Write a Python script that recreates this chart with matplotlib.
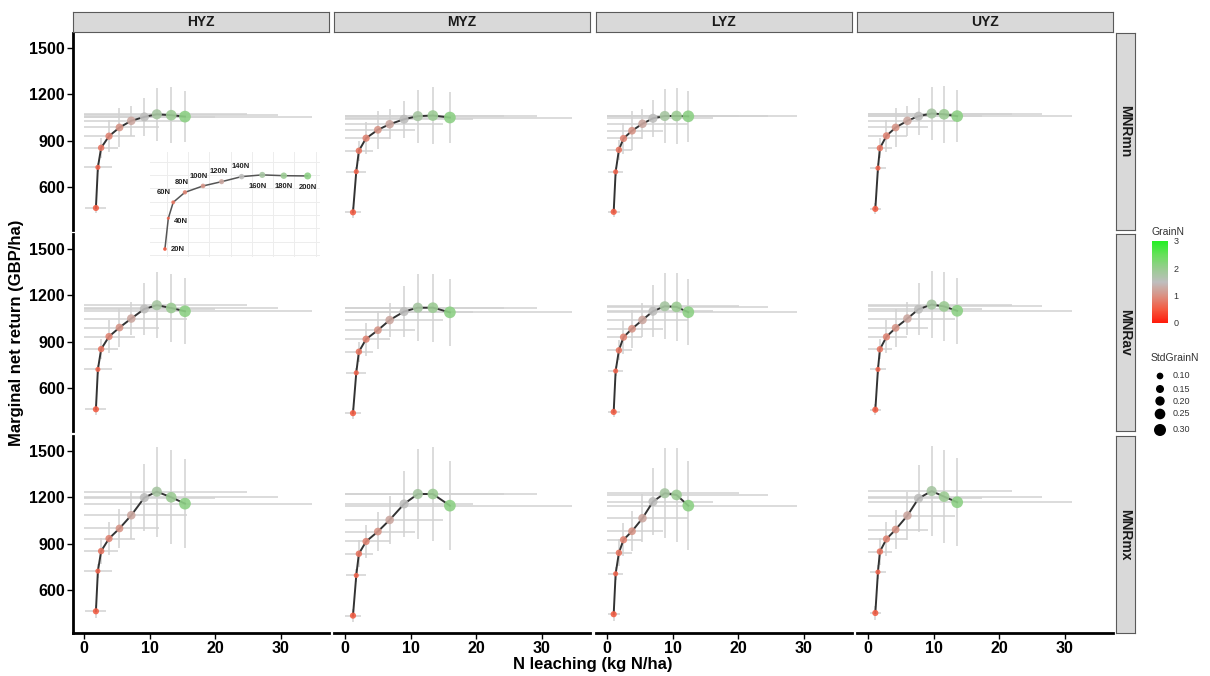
import numpy as np
import matplotlib
matplotlib.use("Agg")
import matplotlib.pyplot as plt
from matplotlib.colors import LinearSegmentedColormap, Normalize
from matplotlib.cm import ScalarMappable

plt.rcParams['font.family'] = ['Liberation Sans', 'DejaVu Sans']

# facets
zones = ["HYZ", "MYZ", "LYZ", "UYZ"]
prices = ["MNRmn", "MNRav", "MNRmx"]
n_rates = ["20N", "40N", "60N", "80N", "100N", "120N", "140N", "160N", "180N", "200N"]

# N leaching (kg N/ha) per zone, and its std
leach_hyz = [1.8, 2.1, 2.6, 3.8, 5.4, 7.2, 9.2, 11.1, 13.3, 15.4]
leach_myz = [1.2, 1.7, 2.1, 3.2, 5.0, 6.8, 9.0, 11.1, 13.4, 16.0]
leach_lyz = [1.0, 1.3, 1.8, 2.5, 3.8, 5.4, 7.0, 8.8, 10.6, 12.4]
leach_uyz = [1.1, 1.5, 1.8, 2.8, 4.2, 6.0, 7.7, 9.7, 11.6, 13.6]
sd_leach_hyz = [1.6, 2.1, 2.6, 3.9, 6.1, 8.5, 10.8, 13.7, 16.3, 19.4]
sd_leach_myz = [1.3, 1.5, 2.1, 3.7, 5.6, 8.1, 10.6, 13.2, 15.9, 18.7]
sd_leach_lyz = [0.9, 1.2, 2.0, 2.9, 4.8, 6.9, 9.1, 11.4, 14.0, 16.6]
sd_leach_uyz = [0.8, 1.2, 1.8, 3.1, 4.9, 7.3, 9.7, 12.2, 14.9, 17.6]

# marginal net return (GBP/ha)
mnr_mn_hyz = [467, 729, 855, 930, 986, 1029, 1054, 1071, 1065, 1056]
mnr_mn_myz = [439, 701, 836, 917, 971, 1007, 1039, 1059, 1063, 1050]
mnr_mn_lyz = [442, 700, 842, 915, 965, 1010, 1045, 1060, 1060, 1058]
mnr_mn_uyz = [461, 724, 853, 932, 986, 1029, 1059, 1076, 1071, 1059]
mnr_av_hyz = [465, 722, 853, 934, 992, 1050, 1112, 1136, 1118, 1097]
mnr_av_myz = [440, 700, 836, 917, 975, 1040, 1095, 1120, 1120, 1090]
mnr_av_lyz = [448, 712, 845, 930, 984, 1041, 1097, 1129, 1125, 1091]
mnr_av_uyz = [462, 722, 852, 932, 990, 1050, 1110, 1140, 1128, 1100]
mnr_mx_hyz = [465, 724, 853, 934, 999, 1084, 1198, 1236, 1200, 1159]
mnr_mx_myz = [437, 696, 836, 915, 979, 1054, 1157, 1221, 1221, 1146]
mnr_mx_lyz = [446, 707, 842, 926, 981, 1065, 1172, 1226, 1215, 1146]
mnr_mx_uyz = [454, 718, 850, 931, 992, 1082, 1193, 1240, 1204, 1168]
sd_mnr_mn = [35, 30, 64, 103, 124, 96, 120, 171, 182, 166]
sd_mnr_av = [35, 30, 64, 107, 124, 107, 166, 214, 220, 214]
sd_mnr_mx = [43, 43, 86, 107, 128, 155, 214, 289, 302, 285]

# grain N and its std (colour / size)
grain_n = [0.55, 0.6, 0.75, 0.9, 1.05, 1.25, 1.5, 1.8, 1.95, 2.1]
std_grain_n = [0.08, 0.04, 0.09, 0.12, 0.14, 0.17, 0.19, 0.23, 0.25, 0.29]
size_breaks = [0.10, 0.15, 0.20, 0.25, 0.30]

# inset sketch (arbitrary grid units)
inset_x = [-0.08, 0.08, 0.31, 0.86, 1.71, 2.58, 3.52, 4.49, 5.5, 6.62]
inset_y = [0.45, 2.76, 3.96, 4.71, 5.19, 5.51, 5.89, 6.02, 5.96, 5.94]

leach = {"HYZ": leach_hyz, "MYZ": leach_myz, "LYZ": leach_lyz, "UYZ": leach_uyz}
sd_leach = {"HYZ": sd_leach_hyz, "MYZ": sd_leach_myz, "LYZ": sd_leach_lyz, "UYZ": sd_leach_uyz}
mnr = {
    "MNRmn": {"HYZ": mnr_mn_hyz, "MYZ": mnr_mn_myz, "LYZ": mnr_mn_lyz, "UYZ": mnr_mn_uyz},
    "MNRav": {"HYZ": mnr_av_hyz, "MYZ": mnr_av_myz, "LYZ": mnr_av_lyz, "UYZ": mnr_av_uyz},
    "MNRmx": {"HYZ": mnr_mx_hyz, "MYZ": mnr_mx_myz, "LYZ": mnr_mx_lyz, "UYZ": mnr_mx_uyz},
}
sd_mnr = {"MNRmn": sd_mnr_mn, "MNRav": sd_mnr_av, "MNRmx": sd_mnr_mx}

cmap = LinearSegmentedColormap.from_list("grain", [
    (0.0, "#FF1A0A"), (1 / 6, "#F45A40"), (2 / 6, "#DA9284"), (0.5, "#BEBEBE"),
    (4 / 6, "#98CC90"), (5 / 6, "#66E05A"), (1.0, "#22F022")])
norm = Normalize(0, 3)

W, H = 1210, 676


def rect(l, t, w, h):
    return [l / W, 1 - (t + h) / H, w / W, h / H]


def marker_area(v, scale=1.0):
    d_px = (4.05 + 26.5 * np.asarray(v)) * scale
    return (d_px * 72 / 100) ** 2


fig = plt.figure(figsize=(W / 100, H / 100), dpi=100)

col_left = [73, 334, 596, 857]
row_top = [33, 234, 436]
pw, ph = 256, 197

for i, p in enumerate(prices):
    for j, z in enumerate(zones):
        ax = fig.add_axes(rect(col_left[j], row_top[i], pw, ph))
        ax.set_facecolor("none")
        x = np.array(leach[z])
        y = np.array(mnr[p][z])
        sx = np.array(sd_leach[z])
        sy = np.array(sd_mnr[p])
        for k in range(len(x)):
            ax.plot([max(0, x[k] - sx[k]), x[k] + sx[k]], [y[k], y[k]],
                    color="#D2D2D2", lw=1.1, solid_capstyle="butt", zorder=1)
            ax.plot([x[k], x[k]], [y[k] - sy[k], y[k] + sy[k]],
                    color="#D2D2D2", lw=1.1, solid_capstyle="butt", zorder=1)
        ax.plot(x, y, color="#333333", lw=1.4, zorder=2)
        ax.scatter(x, y, s=marker_area(std_grain_n), c=grain_n, cmap=cmap, norm=norm,
                   alpha=0.9, edgecolors="none", zorder=3)
        ax.set_xlim(-1.7, 37.4)
        ax.set_ylim(325, 1595)
        ax.set_xticks([0, 10, 20, 30])
        ax.set_yticks([600, 900, 1200, 1500])
        for s in ax.spines.values():
            s.set_visible(False)
        ax.tick_params(length=4, width=1, labelsize=11.5, pad=2, colors="black")
        if j == 0:
            ax.spines["left"].set_visible(True)
            ax.spines["left"].set_linewidth(2)
        else:
            ax.tick_params(left=False, labelleft=False)
        if i == 2:
            ax.spines["bottom"].set_visible(True)
            ax.spines["bottom"].set_linewidth(2)
        else:
            ax.tick_params(bottom=False, labelbottom=False)
        for lbl in ax.get_xticklabels() + ax.get_yticklabels():
            lbl.set_fontweight("bold")

# strips
for j, z in enumerate(zones):
    sa = fig.add_axes(rect(col_left[j], 12, pw, 20))
    sa.set_facecolor("#D9D9D9")
    sa.set_xticks([])
    sa.set_yticks([])
    for s in sa.spines.values():
        s.set_color("#5A5A5A")
        s.set_linewidth(0.8)
    sa.text(0.5, 0.5, z, ha="center", va="center", fontsize=10, fontweight="bold",
            color="#1A1A1A", transform=sa.transAxes)
for i, p in enumerate(prices):
    sa = fig.add_axes(rect(1116, row_top[i], 19, ph))
    sa.set_facecolor("#D9D9D9")
    sa.set_xticks([])
    sa.set_yticks([])
    for s in sa.spines.values():
        s.set_color("#5A5A5A")
        s.set_linewidth(0.8)
    sa.text(0.5, 0.5, p, ha="center", va="center", rotation=-90, fontsize=10,
            fontweight="bold", color="#1A1A1A", transform=sa.transAxes)

# inset
ins = fig.add_axes(rect(150, 152, 170, 105))
ins.set_facecolor("none")
ins.set_xlim(-0.78, 7.2)
ins.set_ylim(-0.15, 7.74)
ins.set_xticks(np.arange(0, 8))
ins.set_yticks(np.arange(0, 8))
ins.grid(True, color="#EDEDED", lw=0.7)
ins.tick_params(length=0, labelbottom=False, labelleft=False)
for s in ins.spines.values():
    s.set_visible(False)
ins.plot(inset_x, inset_y, color="#555555", lw=1.1, zorder=2)
ins.scatter(inset_x, inset_y, s=marker_area(std_grain_n, 0.6), c=grain_n, cmap=cmap,
            norm=norm, alpha=0.9, edgecolors="none", zorder=3)
label_offsets = [(4, 0, "left"), (4, -2, "left"), (-2, 7, "right"), (-2, 7, "center"),
                 (-3, 7, "center"), (-2, 7, "center"), (-1, 7, "center"),
                 (-3, -8, "center"), (0, -8, "center"), (0, -8, "center")]
for k, lab in enumerate(n_rates):
    dx, dy, ha = label_offsets[k]
    ins.annotate(lab, (inset_x[k], inset_y[k]), xytext=(dx, dy), textcoords="offset points",
                 ha=ha, va="center", fontsize=5.5, fontweight="bold", color="#222222")

# axis titles
fig.text(593 / W, 1 - 665 / H, "N leaching (kg N/ha)", ha="center", va="center",
         fontsize=12, fontweight="bold")
fig.text(17 / W, 1 - 333 / H, "Marginal net return (GBP/ha)", ha="center", va="center",
         rotation=90, fontsize=12, fontweight="bold")

# legends
fig.text(1151 / W, 1 - 232 / H, "GrainN", ha="left", va="center", fontsize=7.5, color="#333333")
cax = fig.add_axes(rect(1152, 241, 16, 82))
cb = fig.colorbar(ScalarMappable(norm=norm, cmap=cmap), cax=cax, ticks=[0, 1, 2, 3])
cb.outline.set_visible(False)
cax.tick_params(length=0, labelsize=6.5, colors="#333333", pad=4)

lg = fig.add_axes([0, 0, 1, 1])
lg.set_xlim(0, W)
lg.set_ylim(H, 0)
lg.axis("off")
lg.text(1151, 358, "StdGrainN", ha="left", va="center", fontsize=7.5, color="#333333")
size_y = [376, 389, 401, 414, 430]
lg.scatter([1160] * len(size_breaks), size_y, s=marker_area(size_breaks), color="black",
           edgecolors="none")
for v, yy in zip(size_breaks, size_y):
    lg.text(1173, yy, f"{v:.2f}", ha="left", va="center", fontsize=6.5, color="#333333")

fig.savefig("out.png", dpi=100)
